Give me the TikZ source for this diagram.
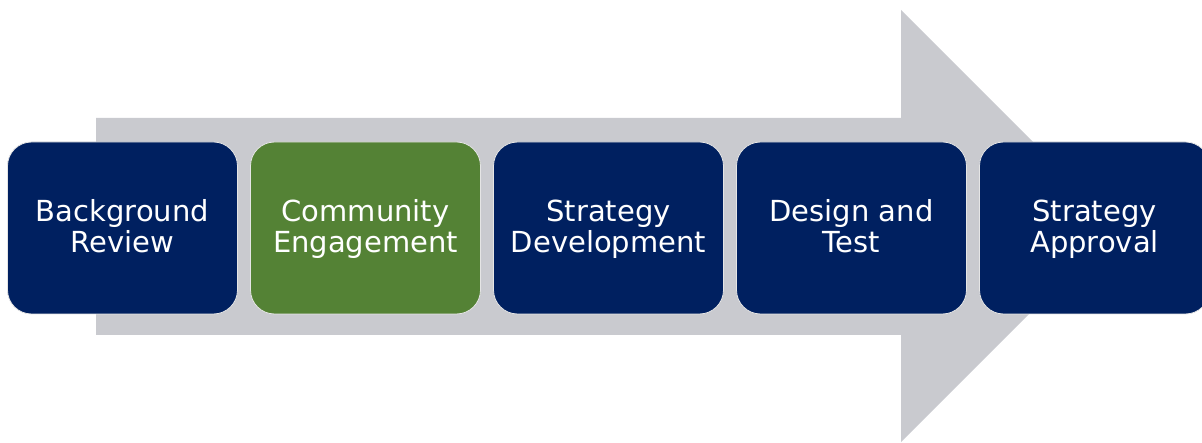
\documentclass[tikz,border=0pt]{standalone}
\usepackage{fontspec}
\setmainfont{DejaVu Sans}
\definecolor{navy}{HTML}{002060}
\definecolor{leaf}{HTML}{548235}
\definecolor{arrowgray}{HTML}{C9CACF}
\newcommand{\stagetop}{\rule{0pt}{28pt}}
\begin{document}
\begin{tikzpicture}[x=1pt,y=1pt,
  stagebox/.style={rounded corners=24pt, minimum width=230pt, minimum height=172pt,
    draw=white!80!gray, line width=0.8pt, text=white, align=center,
    font=\fontsize{29}{31}\selectfont, inner sep=0pt},
  bluebox/.style={stagebox, fill=navy},
  greenbox/.style={stagebox, fill=leaf}]
\useasboundingbox (0,0) rectangle (1202,442);
\clip (0,0) rectangle (1202,442);
\fill[arrowgray] (96,324) -- (901,324) -- (901,432) -- (1117,216) -- (901,0) -- (901,107) -- (96,107) -- cycle;
\node[bluebox]  (bg)  at (122.5,214) {\stagetop Background\\Review\strut};
\node[greenbox] (ce)  at (365.5,214) {\stagetop Community\\Engagement\strut};
\node[bluebox]  (sd)  at (608.5,214) {\stagetop Strategy\\Development\strut};
\node[bluebox]  (dt)  at (851.5,214) {\stagetop Design and\\Test\strut};
\node[bluebox]  (sa)  at (1094.5,214) {\stagetop Strategy\\Approval\strut};
\end{tikzpicture}
\end{document}
